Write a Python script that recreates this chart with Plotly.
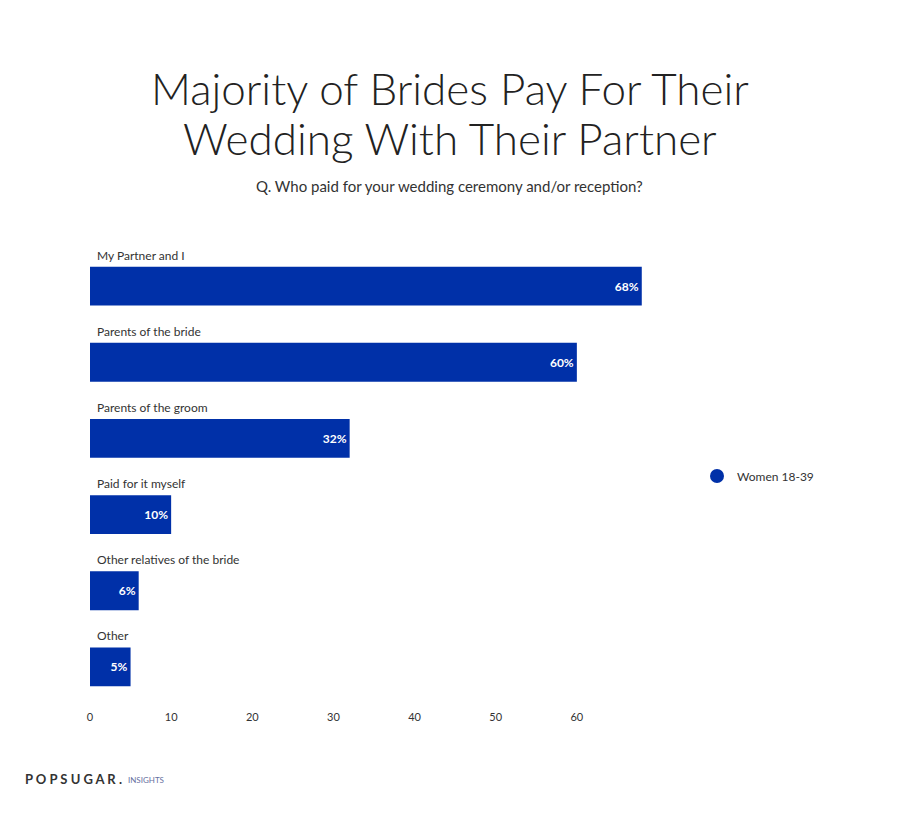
import plotly.graph_objects as go

categories = ["My Partner and I", "Parents of the bride", "Parents of the groom",
              "Paid for it myself", "Other relatives of the bride", "Other"]
values = [68, 60, 32, 10, 6, 5]
value_labels = ["68%", "60%", "32%", "10%", "6%", "5%"]
series_name = "Women 18-39"
tick_vals = [0, 10, 20, 30, 40, 50, 60]
title_lines = ["Majority of Brides Pay For Their", "Wedding With Their Partner"]
subtitle = "Q. Who paid for your wedding ceremony and/or reception?"

BLUE = "#0030A8"
FONT = "Lato"

W, H = 900, 817
OFF = 8  # page body margin
L, T, R, B = 82, 240, 250, 120
PW, PH = W - L - R, H - T - B


def px(xs):
    return (xs - OFF - L) / PW


def py(ys):
    return (H - B - (ys - OFF)) / PH


fig = go.Figure()
fig.add_trace(go.Bar(
    x=values, y=categories, orientation="h",
    marker=dict(color=BLUE, line=dict(width=0)),
    text=value_labels, textposition="inside", insidetextanchor="end",
    textfont=dict(color="white", size=12, family=FONT, weight="bold"),
    showlegend=False, name=series_name,
))
fig.add_trace(go.Scatter(
    x=[None], y=[None], mode="markers", name=series_name,
    marker=dict(color=BLUE, size=14, symbol="circle"),
))

for c in categories:
    fig.add_annotation(x=0, y=c, xref="x", yref="y", text=c, showarrow=False,
                       xanchor="left", yanchor="middle", xshift=5, yshift=31,
                       font=dict(size=12, color="#333", family=FONT))

for line, ypix in zip(title_lines, [88, 138]):
    fig.add_annotation(x=px(450), y=py(ypix), xref="paper", yref="paper", text=line,
                       showarrow=False, xanchor="center", yanchor="middle",
                       font=dict(size=44, color="#222", family=FONT, weight=300))

fig.add_annotation(x=px(449), y=py(186), xref="paper", yref="paper",
                   showarrow=False, text=subtitle,
                   font=dict(size=15, color="#333", family=FONT),
                   xanchor="center", yanchor="middle")

fig.add_annotation(x=px(23), y=py(779), xref="paper", yref="paper", showarrow=False,
                   text="<b>P O P S U G A R .</b>",
                   font=dict(size=13, color="#333", family=FONT),
                   xanchor="left", yanchor="middle")
fig.add_annotation(x=px(126), y=py(780), xref="paper", yref="paper", showarrow=False,
                   text="INSIGHTS",
                   font=dict(size=8, color="#6670A0", family=FONT),
                   xanchor="left", yanchor="middle")

fig.update_layout(
    width=W, height=H,
    margin=dict(l=L, r=R, t=T, b=B),
    paper_bgcolor="white", plot_bgcolor="white",
    bargap=0.49,
    xaxis=dict(range=[0, 70], tickvals=tick_vals, showgrid=False, zeroline=False,
               showline=False, ticks="", ticklabelstandoff=4,
               tickfont=dict(size=11, color="#333", family=FONT)),
    yaxis=dict(categoryorder="array", categoryarray=categories[::-1],
               showticklabels=False, showgrid=False, zeroline=False, showline=False,
               range=[-0.5, 5.5]),
    legend=dict(x=px(697), y=py(476), xref="paper", yref="paper",
                xanchor="left", yanchor="middle",
                font=dict(size=12, color="#333", family=FONT)),
    font=dict(family=FONT),
)

fig.write_html("out.html")
